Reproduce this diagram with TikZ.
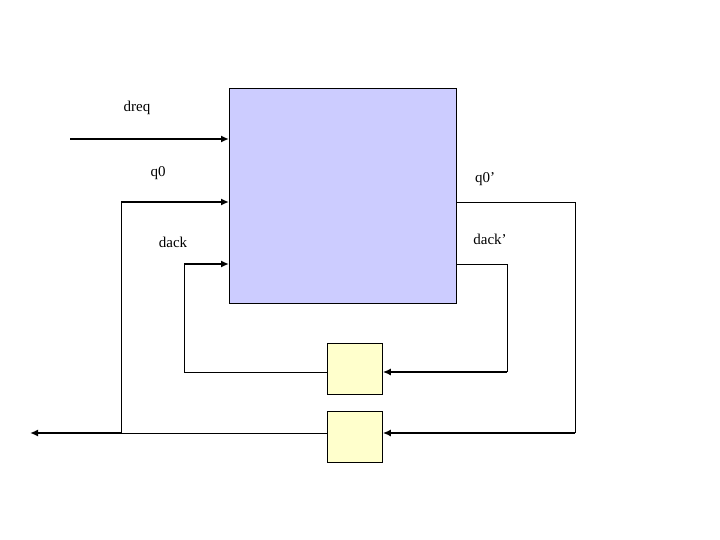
\documentclass[tikz,border=0pt]{standalone}
\usepackage{fontspec}
\setmainfont{Liberation Serif}
\usetikzlibrary{arrows.meta}
\begin{document}
\begin{tikzpicture}[x=1pt,y=-1pt,
  blk/.style={draw=black, line width=0.8pt, inner sep=0pt, anchor=north west},
  thin/.style={draw=black, line width=0.9pt},
  thick/.style={draw=black, line width=2.2pt, -{Latex[length=8pt,width=7pt]}},
  lbl/.style={font=\fontsize{15}{17}\selectfont}]
\useasboundingbox (0,0) rectangle (720,540);
\node[blk, fill={rgb,255:red,204;green,204;blue,255}, minimum width=227pt, minimum height=215pt] (main) at (229,88) {};
\node[blk, fill={rgb,255:red,255;green,255;blue,204}, minimum width=55pt, minimum height=51pt] (d1) at (327,343) {};
\node[blk, fill={rgb,255:red,255;green,255;blue,204}, minimum width=55pt, minimum height=51pt] (d2) at (327,411) {};
\coordinate (din) at (70,139);
\coordinate (qa) at (121,202);
\coordinate (qb) at (121,433);
\coordinate (da) at (184,264);
\coordinate (db) at (184,372);
\coordinate (qra) at (575,202);
\coordinate (qrb) at (575,433);
\coordinate (dra) at (507,264);
\coordinate (drb) at (507,372);
\coordinate (out) at (30,433);
\node[lbl] (ldreq) at (137,108) {dreq};
\node[lbl] (lq0) at (158,173) {q0};
\node[lbl] (ldack) at (173,242) {dack};
\node[lbl] (lq0p) at (485,179) {q0’};
\node[lbl] (ldackp) at (490,239) {dack’};
% dreq
\draw[thick, line width=2.8pt] (din) -- (din -| main.west);
% q0
\draw[thin] (qb) -- (qa);
\draw[thick] (qa) -- (qa -| main.west);
% dack
\draw[thin] (d1.west |- db) -- (db) -- (da);
\draw[thick] (da) -- (da -| main.west);
% q0'
\draw[thin] (qra -| main.east) -- (qra) -- (qrb);
\draw[thick] (qrb) -- (qrb -| d2.east);
% dack'
\draw[thin] (dra -| main.east) -- (dra) -- (drb);
\draw[thick] (drb) -- (drb -| d1.east);
% output
\draw[thin] (d2.west |- qb) -- (qb);
\draw[thick] (qb) -- (out);
\end{tikzpicture}
\end{document}
